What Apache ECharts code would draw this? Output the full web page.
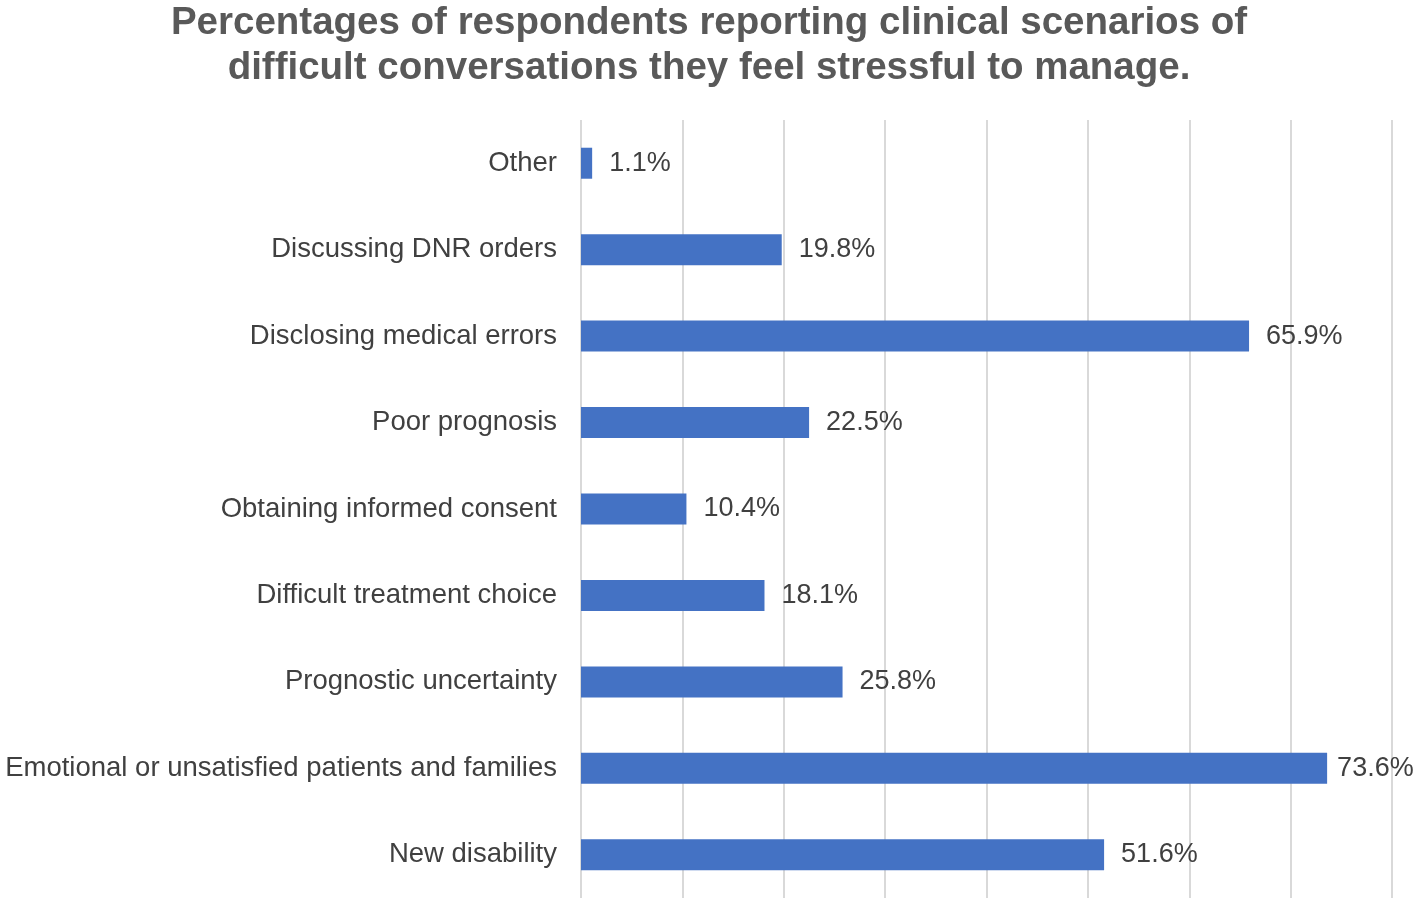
<!DOCTYPE html>
<html>
<head>
<meta charset="utf-8">
<script src="https://cdn.jsdelivr.net/npm/echarts@6/dist/echarts.min.js"></script>
<style>
html,body{margin:0;padding:0;background:#fff;}
#chart{width:1418px;height:900px;}
</style>
</head>
<body>
<div id="chart"></div>
<script>
const titleLines = ["Percentages of respondents reporting clinical scenarios of", "difficult conversations they feel stressful to manage."];
const categories = ["Other", "Discussing DNR orders", "Disclosing medical errors", "Poor prognosis", "Obtaining informed consent", "Difficult treatment choice", "Prognostic uncertainty", "Emotional or unsatisfied patients and families", "New disability"];
const values = [1.1, 19.8, 65.9, 22.5, 10.4, 18.1, 25.8, 73.6, 51.6];
const axisMin = 0, axisMax = 80, axisStep = 10;

const seriesData = values.map(v => ({
  value: v,
  // labels near the right edge are pulled in closer, as the source chart does
  label: { distance: v > 70 ? 10 : 17 }
}));

const chart = echarts.init(document.getElementById('chart'));
chart.setOption({
  animation: false,
  backgroundColor: '#ffffff',
  title: {
    text: titleLines.join('\n'),
    left: 'center',
    top: -4,
    textStyle: {
      fontFamily: 'Liberation Sans, Arial, sans-serif',
      fontWeight: 'bold',
      fontSize: 38.5,
      lineHeight: 45,
      color: '#595959'
    }
  },
  grid: { left: 581, right: 26, top: 120, bottom: 2, containLabel: false },
  xAxis: {
    type: 'value',
    min: axisMin, max: axisMax, interval: axisStep,
    axisLabel: { show: false },
    axisLine: { show: false },
    axisTick: { show: false },
    splitLine: { show: true, lineStyle: { color: '#d9d9d9', width: 2 } }
  },
  yAxis: {
    type: 'category',
    inverse: true,
    data: categories,
    axisLine: { show: false },
    axisTick: { show: false },
    axisLabel: {
      margin: 24,
      fontFamily: 'Liberation Sans, Arial, sans-serif',
      fontSize: 27.5,
      color: '#404040'
    }
  },
  series: [{
    type: 'bar',
    data: seriesData,
    barWidth: 31,
    itemStyle: { color: '#4472c4' },
    label: {
      show: true,
      position: 'right',
      formatter: '{c}%',
      fontFamily: 'Liberation Sans, Arial, sans-serif',
      fontSize: 27,
      color: '#404040'
    }
  }]
});
</script>
</body>
</html>
